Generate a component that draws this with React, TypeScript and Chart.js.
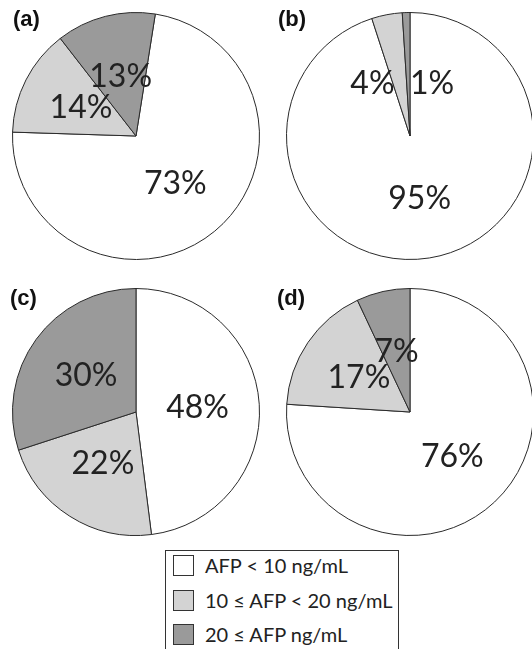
import React, { useEffect, useRef } from 'react';
import { Chart, registerables } from 'chart.js';

Chart.register(...registerables);

const categories = ['AFP < 10 ng/mL', '10 ≤ AFP < 20 ng/mL', '20 ≤ AFP ng/mL'];
const panelNames = ['(a)', '(b)', '(c)', '(d)'];
const valuesA = [73, 14, 13];
const valuesB = [95, 4, 1];
const valuesC = [48, 22, 30];
const valuesD = [76, 17, 7];

const sliceColors = ['#ffffff', '#d3d3d3', '#9a9a9a'];
const R = 124;
const PAD = 12;
const SIZE = 2 * (R + PAD);

const panels = [
  { name: panelNames[0], values: valuesA, cx: 136, cy: 136, rotation: 9, nameX: 13, nameY: 6, offsets: [[0, 0], [0, 0], [0, 0]] },
  { name: panelNames[1], values: valuesB, cx: 410, cy: 136, rotation: 0, nameX: 278, nameY: 6, offsets: [[0, 2], [-26, 8], [24, 9]] },
  { name: panelNames[2], values: valuesC, cx: 136, cy: 412, rotation: 0, nameX: 10, nameY: 285, offsets: [[0, 0], [0, 0], [0, 0]] },
  { name: panelNames[3], values: valuesD, cx: 410, cy: 412, rotation: 0, nameX: 277, nameY: 285, offsets: [[0, 0], [0, 0], [0, 0]] },
];

const labelPlugin = {
  id: 'pctLabels',
  afterDatasetsDraw(chart: any, _args: any, opts: any) {
    const ctx = chart.ctx;
    const meta = chart.getDatasetMeta(0);
    const data = chart.data.datasets[0].data;
    ctx.save();
    ctx.font = '32px Lato, "DejaVu Sans", sans-serif';
    ctx.fillStyle = '#222222';
    ctx.textAlign = 'center';
    ctx.textBaseline = 'middle';
    meta.data.forEach((arc: any, i: number) => {
      const p = arc.getCenterPoint();
      const off = (opts && opts.offsets && opts.offsets[i]) || [0, 0];
      ctx.fillText(data[i] + '%', p.x + off[0], p.y + off[1]);
    });
    ctx.restore();
  },
};

function PiePanel({ panel }: { panel: any }) {
  const ref = useRef<HTMLCanvasElement | null>(null);
  useEffect(() => {
    if (!ref.current) return;
    const chart = new Chart(ref.current, {
      type: 'pie',
      data: {
        labels: categories,
        datasets: [
          {
            data: panel.values,
            backgroundColor: sliceColors,
            borderColor: '#2a2a2a',
            borderWidth: 1,
          },
        ],
      },
      options: {
        responsive: false,
        animation: false,
        rotation: panel.rotation,
        layout: { padding: PAD },
        plugins: {
          legend: { display: false },
          tooltip: { enabled: false },
          pctLabels: { offsets: panel.offsets },
        } as any,
      },
      plugins: [labelPlugin as any],
    });
    return () => chart.destroy();
  }, [panel]);
  return (
    <canvas
      ref={ref}
      width={SIZE}
      height={SIZE}
      style={{ position: 'absolute', left: panel.cx - R - PAD, top: panel.cy - R - PAD, width: SIZE, height: SIZE }}
    />
  );
}

export default function App() {
  useEffect(() => {
    document.body.style.margin = '0';
    document.body.style.overflow = 'hidden';
    document.body.style.background = '#ffffff';
  }, []);
  return (
    <div style={{ position: 'relative', width: 532, height: 649, overflow: 'hidden', background: '#fff' }}>
      {panels.map((p) => (
        <PiePanel key={p.name} panel={p} />
      ))}
      {panels.map((p) => (
        <div
          key={'n' + p.name}
          style={{
            position: 'absolute',
            left: p.nameX,
            top: p.nameY,
            font: 'bold 22px "Liberation Sans", Arial, sans-serif',
            lineHeight: '26px',
            color: '#111',
          }}
        >
          {p.name}
        </div>
      ))}
      <div
        style={{
          position: 'absolute',
          left: 165,
          top: 550,
          width: 234,
          height: 120,
          border: '1px solid #333',
          boxSizing: 'border-box',
          background: '#fff',
        }}
      >
        {categories.map((c, i) => (
          <div key={c} style={{ position: 'absolute', left: 0, top: 4 + i * 34.5, height: 22, width: 230 }}>
            <div
              style={{
                position: 'absolute',
                left: 7,
                top: 0,
                width: 21,
                height: 21,
                boxSizing: 'border-box',
                border: '1px solid #333',
                background: sliceColors[i],
              }}
            />
            <div
              style={{
                position: 'absolute',
                left: 39,
                top: -3,
                font: '20px Lato, "DejaVu Sans", sans-serif',
                lineHeight: '26px',
                color: '#222',
                whiteSpace: 'nowrap',
              }}
            >
              {c}
            </div>
          </div>
        ))}
      </div>
    </div>
  );
}
